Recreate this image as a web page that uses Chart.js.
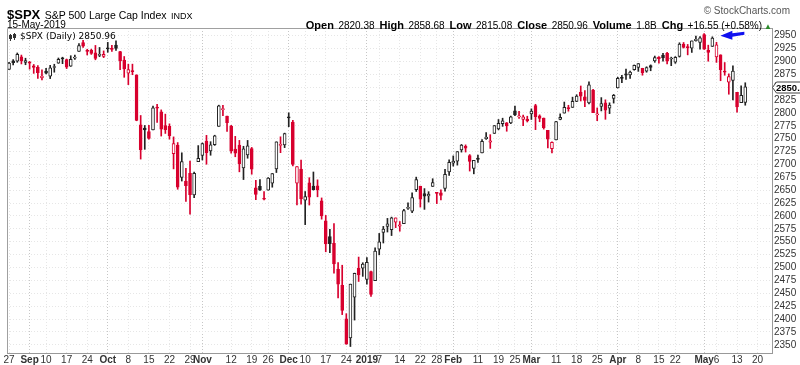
<!DOCTYPE html>
<html>
<head>
<meta charset="utf-8">
<script src="https://cdn.jsdelivr.net/npm/chart.js@4.4.1/dist/chart.umd.min.js"></script>
<style>
  body { margin: 0; background: #fff; }
  #wrap { position: relative; width: 800px; height: 365px; font-family: "Liberation Sans", Arial, sans-serif; color: #000; }
  canvas { position: absolute; left: 0; top: 0; }
  .t { position: absolute; white-space: nowrap; line-height: 12px; }
  .hd b { font-size: 11px; }
  .hd span { font-size: 10px; margin-right: 5px; }
</style>
</head>
<body>
<div id="wrap">
  <canvas id="chart" width="800" height="365"></canvas>
  <div class="t" style="left:7px;top:7px;line-height:13px;"><b style="font-size:13px;">$SPX</b> <span style="font-size:10.5px;">S&amp;P 500 Large Cap Index</span> <span style="font-size:9px;">INDX</span></div>
  <div class="t" style="left:7px;top:19px;font-size:10px;">15-May-2019</div>
  <div class="t" style="right:10px;top:5px;font-size:10px;color:#555;">&copy; StockCharts.com</div>
  <div class="t hd" style="right:28px;top:18px;"><b>Open</b> <span>2820.38</span><b>High</b> <span>2858.68</span><b>Low</b> <span>2815.08</span><b>Close</b> <span>2850.96</span><b>Volume</b> <span>1.8B</span><b>Chg</b> <span style="margin-right:2px;">+16.55 (+0.58%)</span><span style="color:#2a8a2a;font-size:8px;margin:0;">&#9650;</span></div>
  <div class="t" style="left:20px;top:30px;font-family:'DejaVu Sans',sans-serif;font-size:9px;">$SPX (Daily) 2850.96</div>
</div>
<script>
// trading days (Aug 27 2018 - May 15 2019)
const dates = [
  '2018-08-27','2018-08-28','2018-08-29','2018-08-30','2018-08-31',
  '2018-09-04','2018-09-05','2018-09-06','2018-09-07','2018-09-10','2018-09-11','2018-09-12','2018-09-13','2018-09-14',
  '2018-09-17','2018-09-18','2018-09-19','2018-09-20','2018-09-21','2018-09-24','2018-09-25','2018-09-26','2018-09-27','2018-09-28',
  '2018-10-01','2018-10-02','2018-10-03','2018-10-04','2018-10-05','2018-10-08','2018-10-09','2018-10-10','2018-10-11','2018-10-12',
  '2018-10-15','2018-10-16','2018-10-17','2018-10-18','2018-10-19','2018-10-22','2018-10-23','2018-10-24','2018-10-25','2018-10-26',
  '2018-10-29','2018-10-30','2018-10-31',
  '2018-11-01','2018-11-02','2018-11-05','2018-11-06','2018-11-07','2018-11-08','2018-11-09','2018-11-12','2018-11-13','2018-11-14',
  '2018-11-15','2018-11-16','2018-11-19','2018-11-20','2018-11-21','2018-11-23','2018-11-26','2018-11-27','2018-11-28','2018-11-29','2018-11-30',
  '2018-12-03','2018-12-04','2018-12-06','2018-12-07','2018-12-10','2018-12-11','2018-12-12','2018-12-13','2018-12-14',
  '2018-12-17','2018-12-18','2018-12-19','2018-12-20','2018-12-21','2018-12-24','2018-12-26','2018-12-27','2018-12-28','2018-12-31',
  '2019-01-02','2019-01-03','2019-01-04','2019-01-07','2019-01-08','2019-01-09','2019-01-10','2019-01-11','2019-01-14','2019-01-15',
  '2019-01-16','2019-01-17','2019-01-18','2019-01-22','2019-01-23','2019-01-24','2019-01-25','2019-01-28','2019-01-29','2019-01-30','2019-01-31',
  '2019-02-01','2019-02-04','2019-02-05','2019-02-06','2019-02-07','2019-02-08','2019-02-11','2019-02-12','2019-02-13','2019-02-14',
  '2019-02-15','2019-02-19','2019-02-20','2019-02-21','2019-02-22','2019-02-25','2019-02-26','2019-02-27','2019-02-28',
  '2019-03-01','2019-03-04','2019-03-05','2019-03-06','2019-03-07','2019-03-08','2019-03-11','2019-03-12','2019-03-13','2019-03-14',
  '2019-03-15','2019-03-18','2019-03-19','2019-03-20','2019-03-21','2019-03-22','2019-03-25','2019-03-26','2019-03-27','2019-03-28','2019-03-29',
  '2019-04-01','2019-04-02','2019-04-03','2019-04-04','2019-04-05','2019-04-08','2019-04-09','2019-04-10','2019-04-11','2019-04-12',
  '2019-04-15','2019-04-16','2019-04-17','2019-04-18','2019-04-22','2019-04-23','2019-04-24','2019-04-25','2019-04-26','2019-04-29','2019-04-30',
  '2019-05-01','2019-05-02','2019-05-03','2019-05-06','2019-05-07','2019-05-08','2019-05-09','2019-05-10','2019-05-13','2019-05-14','2019-05-15'
];
// empty slots on the right of the chart
const futureDates = ['2019-05-16','2019-05-17','2019-05-20','2019-05-21','2019-05-22','2019-05-23'];

const opens = [
  2884.69, 2901.45, 2900.62, 2908.94, 2898.37,
  2896.96, 2891.59, 2888.64, 2868.26, 2881.39, 2871.57, 2888.29, 2896.85, 2906.38, 2903.83, 2890.74, 2906.60, 2919.73, 2936.76, 2921.83, 2921.75, 2916.98, 2911.65, 2910.03,
  2926.29, 2923.80, 2931.69, 2919.35, 2902.54, 2877.53, 2882.51, 2873.90, 2776.87, 2770.54, 2763.83, 2767.05, 2811.67, 2802.00, 2775.66, 2773.94, 2721.03, 2737.87, 2674.88, 2667.86, 2682.65, 2640.68, 2705.60,
  2717.58, 2745.45, 2726.37, 2738.40, 2774.13, 2806.38, 2794.10, 2773.93, 2730.05, 2737.90, 2693.52, 2718.54, 2730.74, 2654.60, 2657.74, 2633.36, 2649.97, 2663.75, 2691.45, 2736.97, 2737.76,
  2790.50, 2782.43, 2663.51, 2691.26, 2630.86, 2664.44, 2658.23, 2658.70, 2629.68, 2590.75, 2559.90, 2547.05, 2496.77, 2465.38, 2400.56, 2363.12, 2442.50, 2498.77, 2498.94,
  2476.96, 2491.92, 2474.33, 2535.61, 2568.11, 2580.00, 2573.51, 2588.11, 2580.31, 2585.10, 2614.75, 2609.28, 2651.27, 2657.88, 2643.48, 2638.84, 2657.44, 2644.97, 2644.89, 2653.62, 2685.49,
  2702.32, 2706.49, 2728.34, 2735.05, 2717.53, 2692.36, 2712.40, 2722.61, 2750.30, 2743.50, 2760.24, 2769.28, 2779.05, 2780.67, 2780.67, 2804.35, 2792.36, 2787.50, 2788.11,
  2798.22, 2814.37, 2794.41, 2790.27, 2766.53, 2730.79, 2747.61, 2787.34, 2799.78, 2810.38, 2810.79, 2822.61, 2840.76, 2831.34, 2819.72, 2844.52, 2796.01, 2812.66, 2819.72, 2809.40, 2828.27,
  2848.63, 2868.24, 2876.09, 2873.99, 2884.16, 2888.46, 2886.58, 2881.37, 2891.92, 2900.86, 2908.32, 2912.26, 2916.04, 2904.81, 2898.78, 2909.99, 2934.00, 2928.99, 2925.81, 2940.58, 2937.14,
  2952.33, 2922.16, 2929.21, 2908.89, 2913.03, 2879.61, 2859.84, 2863.10, 2840.19, 2820.12, 2820.38
];
const highs = [
  2898.25, 2903.77, 2916.50, 2912.46, 2906.32,
  2900.18, 2894.21, 2892.05, 2883.81, 2886.93, 2892.52, 2894.65, 2906.76, 2908.30, 2904.65, 2911.17, 2912.36, 2934.80, 2940.91, 2923.79, 2923.95, 2931.15, 2927.22, 2920.53,
  2937.06, 2931.42, 2939.86, 2919.78, 2909.64, 2894.83, 2894.83, 2874.02, 2795.14, 2775.77, 2775.99, 2813.46, 2816.94, 2806.04, 2797.77, 2778.94, 2753.59, 2742.59, 2722.70, 2692.38, 2706.85, 2685.43, 2736.69,
  2741.67, 2756.55, 2744.27, 2756.82, 2815.15, 2814.75, 2794.10, 2775.99, 2754.60, 2746.80, 2735.38, 2746.75, 2733.16, 2669.44, 2670.73, 2647.55, 2674.35, 2682.53, 2744.00, 2753.75, 2760.88,
  2800.18, 2785.93, 2696.15, 2708.54, 2647.51, 2674.35, 2685.44, 2670.19, 2635.07, 2601.13, 2573.99, 2585.29, 2509.63, 2504.41, 2410.34, 2467.76, 2489.10, 2520.27, 2509.24,
  2519.49, 2493.14, 2538.07, 2566.16, 2579.82, 2595.32, 2597.82, 2596.27, 2589.32, 2613.08, 2625.76, 2645.06, 2675.47, 2657.88, 2653.19, 2647.20, 2672.38, 2644.97, 2650.93, 2690.44, 2708.95,
  2716.66, 2724.99, 2738.98, 2738.08, 2719.32, 2708.07, 2718.05, 2748.19, 2761.85, 2757.90, 2775.66, 2787.33, 2789.88, 2781.58, 2794.20, 2813.49, 2803.12, 2795.76, 2793.73,
  2808.02, 2816.88, 2796.44, 2790.27, 2766.53, 2744.13, 2784.00, 2798.32, 2821.24, 2815.00, 2830.73, 2835.41, 2852.42, 2843.54, 2860.31, 2846.16, 2809.79, 2829.87, 2825.56, 2819.71, 2836.03,
  2869.40, 2872.90, 2885.25, 2881.28, 2893.24, 2895.95, 2886.88, 2889.71, 2893.42, 2910.54, 2909.60, 2916.06, 2918.00, 2908.40, 2909.51, 2936.31, 2936.83, 2933.10, 2939.88, 2949.52, 2948.22,
  2954.13, 2931.68, 2947.85, 2937.32, 2913.03, 2897.96, 2875.97, 2891.31, 2840.19, 2852.54, 2858.68
];
const lows = [
  2884.69, 2893.50, 2898.40, 2895.22, 2893.67,
  2885.13, 2876.92, 2867.29, 2864.12, 2875.94, 2866.78, 2879.20, 2896.39, 2895.77, 2886.16, 2890.43, 2903.82, 2919.73, 2927.11, 2912.63, 2913.70, 2903.28, 2909.27, 2907.50,
  2917.91, 2919.37, 2921.36, 2883.92, 2869.29, 2855.04, 2874.27, 2784.86, 2710.51, 2729.44, 2749.03, 2766.91, 2781.81, 2755.18, 2760.27, 2749.22, 2691.43, 2651.89, 2667.84, 2628.16, 2603.54, 2635.34, 2705.60,
  2708.85, 2700.44, 2717.94, 2737.08, 2774.13, 2794.99, 2764.24, 2722.00, 2714.98, 2685.75, 2670.75, 2712.16, 2681.09, 2631.52, 2649.82, 2631.09, 2649.97, 2655.89, 2684.38, 2722.94, 2732.76,
  2773.38, 2697.18, 2621.53, 2623.14, 2583.23, 2621.30, 2650.26, 2637.27, 2593.84, 2530.54, 2528.71, 2488.96, 2441.18, 2408.55, 2351.10, 2346.58, 2397.94, 2472.89, 2482.82,
  2467.47, 2443.96, 2474.33, 2524.56, 2547.56, 2568.89, 2562.02, 2577.40, 2570.41, 2585.10, 2612.68, 2606.36, 2647.58, 2617.27, 2612.86, 2627.01, 2657.33, 2624.06, 2631.05, 2648.34, 2678.65,
  2696.88, 2698.75, 2724.03, 2724.15, 2687.26, 2681.83, 2703.79, 2722.61, 2748.63, 2731.23, 2760.24, 2767.29, 2774.06, 2764.55, 2779.11, 2794.99, 2789.47, 2775.13, 2782.51,
  2787.38, 2767.66, 2782.97, 2768.69, 2732.11, 2722.27, 2747.61, 2786.73, 2799.78, 2803.46, 2810.79, 2821.99, 2823.27, 2812.43, 2817.38, 2800.47, 2785.02, 2803.99, 2787.72, 2798.77, 2819.23,
  2848.63, 2858.75, 2865.17, 2867.14, 2882.99, 2880.78, 2873.33, 2879.13, 2881.99, 2898.37, 2896.48, 2900.71, 2895.45, 2891.90, 2896.35, 2908.53, 2926.05, 2912.84, 2917.56, 2939.35, 2924.11,
  2923.36, 2900.50, 2929.21, 2898.21, 2862.60, 2873.28, 2836.40, 2825.39, 2801.43, 2820.12, 2815.08
];
const closes = [
  2896.74, 2897.52, 2914.04, 2901.13, 2901.52,
  2896.72, 2888.60, 2878.05, 2871.68, 2877.13, 2887.89, 2888.92, 2904.18, 2904.98, 2888.80, 2904.31, 2907.95, 2930.75, 2929.67, 2919.37, 2915.56, 2905.97, 2914.00, 2913.98,
  2924.59, 2923.43, 2925.51, 2901.61, 2885.57, 2884.43, 2880.34, 2785.68, 2728.37, 2767.13, 2750.79, 2809.92, 2809.21, 2768.78, 2767.78, 2755.88, 2740.69, 2656.10, 2705.57, 2658.69, 2641.25, 2682.63, 2711.74,
  2740.37, 2723.06, 2738.31, 2755.45, 2813.89, 2806.83, 2781.01, 2726.22, 2722.18, 2701.58, 2730.20, 2736.27, 2690.73, 2641.89, 2649.93, 2632.56, 2673.45, 2682.17, 2743.79, 2737.80, 2760.17,
  2790.37, 2700.06, 2695.95, 2633.08, 2637.72, 2636.78, 2651.07, 2650.54, 2599.95, 2545.94, 2546.16, 2506.96, 2467.42, 2416.62, 2351.10, 2467.70, 2488.83, 2485.74, 2506.85,
  2510.03, 2447.89, 2531.94, 2549.69, 2574.41, 2584.96, 2596.64, 2596.26, 2582.61, 2610.30, 2616.10, 2635.96, 2670.71, 2632.90, 2638.70, 2642.33, 2664.76, 2643.85, 2640.00, 2681.05, 2704.10,
  2706.53, 2724.87, 2737.70, 2731.61, 2706.05, 2707.88, 2709.80, 2744.73, 2753.03, 2745.73, 2775.60, 2779.76, 2784.70, 2774.88, 2792.67, 2796.11, 2793.90, 2792.38, 2784.49,
  2803.69, 2792.81, 2789.65, 2771.45, 2748.93, 2743.07, 2783.30, 2791.52, 2810.92, 2808.48, 2822.48, 2832.94, 2832.57, 2824.23, 2854.88, 2800.71, 2798.36, 2818.46, 2805.37, 2815.44, 2834.40,
  2867.19, 2867.24, 2873.40, 2879.39, 2892.74, 2895.77, 2878.20, 2888.21, 2888.32, 2907.41, 2905.58, 2907.06, 2900.45, 2905.03, 2907.97, 2933.68, 2927.25, 2926.17, 2939.88, 2943.03, 2945.83,
  2923.73, 2917.52, 2945.64, 2932.47, 2884.05, 2879.42, 2870.72, 2881.40, 2811.87, 2834.41, 2850.96
];
const priorClose = 2874.69; // close before the first candle

// x axis labels
const xTickDates = ['2018-08-27','2018-09-04','2018-09-10','2018-09-17','2018-09-24','2018-10-01','2018-10-08','2018-10-15','2018-10-22','2018-10-29',
  '2018-11-01','2018-11-12','2018-11-19','2018-11-26','2018-12-03','2018-12-10','2018-12-17','2018-12-24','2019-01-02','2019-01-07','2019-01-14',
  '2019-01-22','2019-01-28','2019-02-01','2019-02-11','2019-02-19','2019-02-25','2019-03-01','2019-03-11','2019-03-18','2019-03-25','2019-04-01',
  '2019-04-08','2019-04-15','2019-04-22','2019-05-01','2019-05-06','2019-05-13','2019-05-20'];
const xTickText = ['27','Sep','10','17','24','Oct','8','15','22','29','Nov','12','19','26','Dec','10','17','24','2019','7','14',
  '22','28','Feb','11','19','25','Mar','11','18','25','Apr','8','15','22','May','6','13','20'];
const monthTicks = ['Sep','Oct','Nov','Dec','2019','Feb','Mar','Apr','May'];
const yTicks = [2350,2375,2400,2425,2450,2475,2500,2525,2550,2575,2600,2625,2650,2675,2700,2725,2750,2775,2800,2825,2850,2875,2900,2925,2950];

const UP = '#222222';
const DOWN = '#d8002e';
const FONT = '"Liberation Sans", Arial, sans-serif';

// candle colours: red when close is below previous close, hollow when close > open
const candleColor = closes.map((c, i) => c < (i === 0 ? priorClose : closes[i - 1]) ? DOWN : UP);
const bodyFill = closes.map((c, i) => c > opens[i] ? '#ffffff' : candleColor[i]);

const chartLabels = dates.concat(futureDates);
const tickLabelFor = d => {
  const k = xTickDates.indexOf(d);
  return k >= 0 ? xTickText[k] : null;
};

// frame, price marker and arrow
const extras = {
  id: 'extras',
  afterDraw(chart) {
    const { ctx, chartArea: a, scales } = chart;
    ctx.save();
    ctx.strokeStyle = '#a0a0a0';
    ctx.lineWidth = 1;
    ctx.beginPath();
    ctx.moveTo(a.left + 0.5, a.bottom);
    ctx.lineTo(a.left + 0.5, a.top + 0.5);
    ctx.lineTo(a.right, a.top + 0.5);
    ctx.stroke();

    // legend icon
    ctx.fillStyle = '#333';
    ctx.fillRect(10, 34, 1, 7); ctx.fillRect(9, 35, 3, 4);
    ctx.fillRect(14, 33, 1, 7); ctx.fillRect(13, 34, 3, 4);

    // last price marker
    const last = closes[closes.length - 1];
    const py = Math.round(scales.y.getPixelForValue(last)) + 0.5;
    ctx.beginPath();
    ctx.moveTo(a.right + 0.5, py);
    ctx.lineTo(a.right + 4.5, py - 5.5);
    ctx.lineTo(805, py - 5.5);
    ctx.lineTo(805, py + 5.5);
    ctx.lineTo(a.right + 4.5, py + 5.5);
    ctx.closePath();
    ctx.fillStyle = '#fff';
    ctx.fill();
    ctx.strokeStyle = '#444';
    ctx.stroke();
    ctx.fillStyle = '#000';
    ctx.font = 'bold 9.5px ' + FONT;
    ctx.textBaseline = 'middle';
    ctx.fillText(last.toFixed(2), a.right + 4, py + 0.5);

    // blue arrow pointing at the May 3 candle
    const k = dates.indexOf('2019-05-03');
    const ax = scales.x.getPixelForValue(k) + 8;
    const ay = scales.y.getPixelForValue(highs[k]) - 1;
    ctx.fillStyle = '#1010f0';
    ctx.beginPath();
    ctx.moveTo(ax, ay);
    ctx.lineTo(ax + 12, ay - 5);
    ctx.lineTo(ax + 12, ay - 2.5);
    ctx.lineTo(ax + 24, ay - 4);
    ctx.lineTo(ax + 24, ay - 1);
    ctx.lineTo(ax + 12, ay + 1);
    ctx.lineTo(ax + 12, ay + 4);
    ctx.closePath();
    ctx.fill();
    ctx.restore();
  }
};

new Chart(document.getElementById('chart'), {
  type: 'bar',
  data: {
    labels: chartLabels,
    datasets: [
      {
        label: 'wick',
        data: lows.map((l, i) => [l, highs[i]]),
        backgroundColor: candleColor,
        borderWidth: 0,
        barThickness: 1,
        grouped: false,
        order: 2
      },
      {
        label: 'body',
        data: opens.map((o, i) => [o, closes[i]]),
        backgroundColor: bodyFill,
        borderColor: candleColor,
        borderWidth: 1,
        borderSkipped: false,
        barThickness: 3,
        minBarLength: 1,
        grouped: false,
        order: 1
      }
    ]
  },
  options: {
    responsive: false,
    animation: false,
    events: [],
    layout: { padding: { left: 7, top: 28, right: 0, bottom: 0 } },
    plugins: { legend: { display: false }, tooltip: { enabled: false } },
    scales: {
      x: {
        type: 'category',
        offset: true,
        grid: {
          offset: false,
          drawTicks: false,
          color: c => {
            const lab = c.tick ? c.tick.label : null;
            if (lab === null || lab === undefined) return 'rgba(0,0,0,0)';
            return monthTicks.includes(lab) ? '#c6c6c6' : '#e6e6e6';
          }
        },
        border: { display: true, color: '#999', dash: [1, 2] },
        ticks: {
          autoSkip: false,
          maxRotation: 0,
          padding: 1,
          color: '#333',
          callback: function (value) { return tickLabelFor(this.getLabelForValue(value)); },
          font: c => ({ family: FONT, size: 10, weight: c.tick && monthTicks.includes(c.tick.label) ? 'bold' : 'normal' })
        },
        afterFit: s => { s.height = 12; }
      },
      y: {
        position: 'right',
        min: 2334,
        max: 2965,
        afterBuildTicks: s => { s.ticks = yTicks.map(v => ({ value: v })); },
        grid: { color: '#e6e6e6', drawTicks: false },
        border: { display: true, color: '#999', dash: [1, 2] },
        ticks: {
          autoSkip: false,
          padding: 2,
          color: '#333',
          font: { family: FONT, size: 10 },
          callback: v => String(v)
        },
        afterFit: s => { s.width = 28; }
      }
    }
  },
  plugins: [extras]
});
</script>
</body>
</html>
